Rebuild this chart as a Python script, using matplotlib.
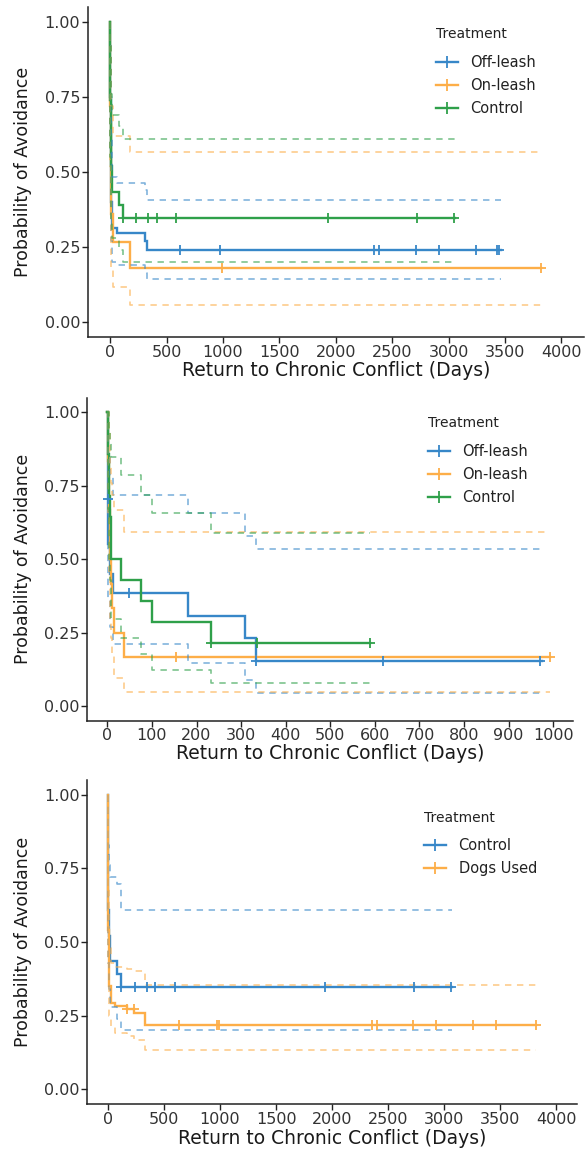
import numpy as np
import matplotlib
matplotlib.use("Agg")
import matplotlib.pyplot as plt
from matplotlib.lines import Line2D

# ---------------- data ----------------
# Panel 1: full period, three treatments
p1_off_t = [0, 2, 5, 10, 20, 59, 310, 324]
p1_off_s = [1.0, 0.75, 0.55, 0.40, 0.314, 0.298, 0.27, 0.242]
p1_off_up = [1.0, 0.93, 0.78, 0.62, 0.485, 0.465, 0.44, 0.409]
p1_off_lo = [1.0, 0.58, 0.40, 0.27, 0.20, 0.19, 0.165, 0.145]
p1_off_end = 3460
p1_off_cens = [618, 971, 2339, 2383, 2707, 2912, 3242, 3427, 3450]

p1_on_t = [0, 2, 5, 10, 29, 177]
p1_on_s = [1.0, 0.72, 0.50, 0.36, 0.268, 0.179]
p1_on_up = [1.0, 0.92, 0.80, 0.72, 0.62, 0.569]
p1_on_lo = [1.0, 0.52, 0.32, 0.18, 0.117, 0.058]
p1_on_end = 3815
p1_on_cens = [994, 3815]

p1_ctl_t = [0, 1, 3, 6, 10, 15, 80, 118]
p1_ctl_s = [1.0, 0.87, 0.74, 0.61, 0.52, 0.435, 0.39, 0.346]
p1_ctl_up = [1.0, 0.98, 0.92, 0.83, 0.76, 0.69, 0.655, 0.611]
p1_ctl_lo = [1.0, 0.70, 0.55, 0.43, 0.34, 0.28, 0.24, 0.199]
p1_ctl_end = 3060
p1_ctl_cens = [118, 229, 333, 412, 588, 1933, 2721, 3051]

# Panel 2: first 1000 days, three treatments
p2_off_t = [0, 1, 2, 5, 12, 181, 308, 333]
p2_off_s = [1.0, 0.706, 0.55, 0.45, 0.385, 0.307, 0.231, 0.154]
p2_off_up = [1.0, 0.95, 0.85, 0.78, 0.72, 0.658, 0.58, 0.533]
p2_off_lo = [1.0, 0.50, 0.36, 0.27, 0.21, 0.148, 0.088, 0.045]
p2_off_end = 975
p2_off_cens = [1, 48, 333, 619, 970]

p2_on_t = [0, 1, 2, 3, 4, 5, 6, 8, 10, 16, 37]
p2_on_s = [1.0, 0.917, 0.833, 0.75, 0.667, 0.583, 0.5, 0.417, 0.333, 0.25, 0.167]
p2_on_up = [1.0, 1.0, 1.0, 0.99, 0.94, 0.88, 0.82, 0.76, 0.72, 0.666, 0.592]
p2_on_lo = [1.0, 0.77, 0.64, 0.54, 0.45, 0.37, 0.30, 0.23, 0.17, 0.097, 0.048]
p2_on_end = 992
p2_on_cens = [155, 992]

p2_ctl_t = [0, 1, 2, 3, 4, 6, 8, 9, 30, 76, 100, 233]
p2_ctl_s = [1.0, 0.929, 0.857, 0.786, 0.714, 0.643, 0.571, 0.5, 0.429, 0.357, 0.286, 0.214]
p2_ctl_up = [1.0, 1.0, 1.0, 0.98, 0.94, 0.90, 0.87, 0.848, 0.786, 0.72, 0.658, 0.59]
p2_ctl_lo = [1.0, 0.80, 0.67, 0.58, 0.50, 0.43, 0.36, 0.296, 0.233, 0.177, 0.123, 0.078]
p2_ctl_end = 589
p2_ctl_cens = [233, 336, 589]

# Panel 3: control vs dogs used
p3_ctl_t = [0, 1, 3, 6, 10, 15, 80, 118]
p3_ctl_s = [1.0, 0.87, 0.74, 0.61, 0.52, 0.435, 0.39, 0.348]
p3_ctl_up = [1.0, 0.98, 0.92, 0.83, 0.76, 0.72, 0.698, 0.61]
p3_ctl_lo = [1.0, 0.70, 0.55, 0.43, 0.34, 0.28, 0.24, 0.201]
p3_ctl_end = 3065
p3_ctl_cens = [118, 238, 349, 423, 602, 1937, 2733, 3061]

p3_dog_t = [0, 1, 2, 4, 7, 12, 25, 60, 170, 230, 334]
p3_dog_s = [1.0, 0.84, 0.68, 0.54, 0.43, 0.35, 0.294, 0.283, 0.272, 0.26, 0.217]
p3_dog_up = [1.0, 0.92, 0.80, 0.68, 0.57, 0.48, 0.43, 0.416, 0.41, 0.40, 0.354]
p3_dog_lo = [1.0, 0.75, 0.57, 0.43, 0.33, 0.25, 0.21, 0.19, 0.18, 0.167, 0.132]
p3_dog_end = 3815
p3_dog_cens = [170, 229, 632, 975, 990, 2352, 2397, 2725, 2922, 3256, 3464, 3815]

y_ticks = [0.0, 0.25, 0.5, 0.75, 1.0]
y_tick_labels = ["0.00", "0.25", "0.50", "0.75", "1.00"]
x_ticks_long = list(range(0, 4001, 500))
x_ticks_short = list(range(0, 1001, 100))

labels3 = ["Off-leash", "On-leash", "Control"]
labels2 = ["Control", "Dogs Used"]

BLUE = "#3787C8"
ORANGE = "#FDAE48"
GREEN = "#2FA04A"

# ---------------- figure ----------------
W, H = 587, 1150
fig = plt.figure(figsize=(W / 100, H / 100), dpi=100)


def make_axes(L, R, T, B):
    return fig.add_axes([L / W, (H - B) / H, (R - L) / W, (B - T) / H])


def km(ax, t, s, up, lo, end, cens, color):
    tt = np.append(t, end)
    ss = np.append(s, s[-1])
    uu = np.append(up, up[-1])
    ll = np.append(lo, lo[-1])
    ax.step(tt, ss, where="post", color=color, lw=1.7, zorder=3,
            solid_joinstyle="miter")
    for band in (uu, ll):
        ax.step(tt, band, where="post", color=color, lw=1.15, alpha=0.65,
                ls=(0, (4, 3.5)), zorder=4)
    idx = np.searchsorted(t, cens, side="right") - 1
    ax.plot(cens, np.asarray(s)[idx], ls="none", marker="+", ms=7.5,
            mew=1.3, color=color, zorder=5)


def style(ax, xlim, xticks, xlab_y, L, R):
    ax.set_xlim(*xlim)
    ax.set_ylim(-0.05, 1.05)
    ax.set_xticks(xticks)
    ax.set_yticks(y_ticks)
    ax.set_yticklabels(y_tick_labels)
    for sp in ("top", "right"):
        ax.spines[sp].set_visible(False)
    for sp in ("left", "bottom"):
        ax.spines[sp].set_linewidth(1.1)
        ax.spines[sp].set_color("#222222")
    ax.tick_params(axis="both", length=4, width=1.0, color="#222222",
                   labelsize=11.5, labelcolor="#333333", pad=1.5)
    ax.set_ylabel("Probability of Avoidance", fontsize=12.5,
                  color="#1a1a1a", va="center")
    ax.yaxis.set_label_coords((23 - L) / (R - L), 0.5)
    ax.set_xlabel("Return to Chronic Conflict (Days)", fontsize=13.5,
                  color="#1a1a1a", va="center")
    ax.xaxis.set_label_coords(0.5, xlab_y)


def legend(ax, labels, colors, x, top):
    handles = [Line2D([], [], color=c, lw=1.7, marker="+", ms=8, mew=1.3)
               for c in colors]
    leg = ax.legend(handles, labels, title="Treatment", loc="upper left",
                    bbox_to_anchor=(x / W, 1 - top / H),
                    bbox_transform=fig.transFigure, frameon=False,
                    borderpad=0, borderaxespad=0, fontsize=10.5,
                    title_fontsize=10, handlelength=1.5, handletextpad=0.87,
                    labelspacing=0.55, numpoints=1, alignment="left")
    for txt in leg.get_texts():
        txt.set_color("#222222")
    leg.get_title().set_color("#222222")
    leg._legend_box.sep = 9.8
    return leg


# Panel 1
L1, R1, T1, B1 = 88, 584, 7.5, 337
ax1 = make_axes(L1, R1, T1, B1)
km(ax1, p1_off_t, p1_off_s, p1_off_up, p1_off_lo, p1_off_end, p1_off_cens, BLUE)
km(ax1, p1_on_t, p1_on_s, p1_on_up, p1_on_lo, p1_on_end, p1_on_cens, ORANGE)
km(ax1, p1_ctl_t, p1_ctl_s, p1_ctl_up, p1_ctl_lo, p1_ctl_end, p1_ctl_cens, GREEN)
style(ax1, (-196, 4200), x_ticks_long, (B1 - 371) / (B1 - T1), L1, R1)
legend(ax1, labels3, [BLUE, ORANGE, GREEN], 436, 27)

# Panel 2
L2, R2, T2, B2 = 87.3, 573.3, 397.6, 720.7
ax2 = make_axes(L2, R2, T2, B2)
km(ax2, p2_off_t, p2_off_s, p2_off_up, p2_off_lo, p2_off_end, p2_off_cens, BLUE)
km(ax2, p2_on_t, p2_on_s, p2_on_up, p2_on_lo, p2_on_end, p2_on_cens, ORANGE)
km(ax2, p2_ctl_t, p2_ctl_s, p2_ctl_up, p2_ctl_lo, p2_ctl_end, p2_ctl_cens, GREEN)
style(ax2, (-45, 1045), x_ticks_short, (B2 - 753.3) / (B2 - T2), L2, R2)
legend(ax2, labels3, [BLUE, ORANGE, GREEN], 428, 416.2)

# Panel 3
L3, R3, T3, B3 = 87.3, 577, 780, 1104
ax3 = make_axes(L3, R3, T3, B3)
km(ax3, p3_ctl_t, p3_ctl_s, p3_ctl_up, p3_ctl_lo, p3_ctl_end, p3_ctl_cens, BLUE)
km(ax3, p3_dog_t, p3_dog_s, p3_dog_up, p3_dog_lo, p3_dog_end, p3_dog_cens, ORANGE)
style(ax3, (-183, 4183), x_ticks_long, (B3 - 1138.3) / (B3 - T3), L3, R3)
legend(ax3, labels2, [BLUE, ORANGE], 424, 810.6)

fig.savefig("out.png", dpi=100)
